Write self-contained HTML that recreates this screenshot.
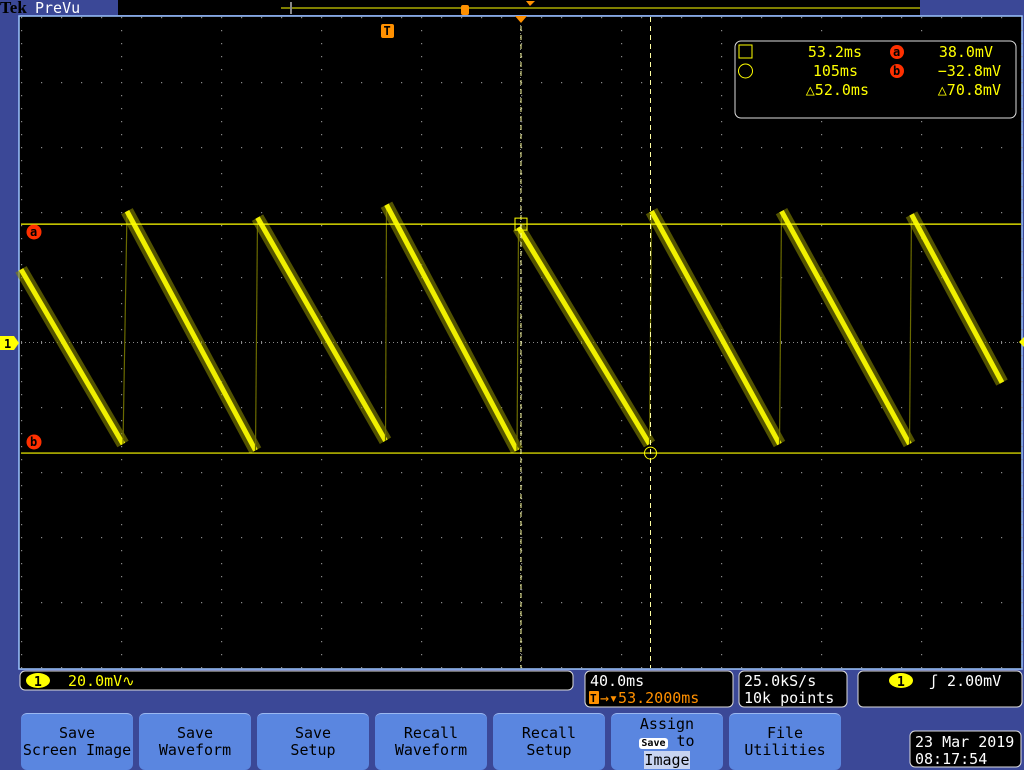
<!DOCTYPE html>
<html><head><meta charset="utf-8">
<style>
body{margin:0;width:1024px;height:768px;overflow:hidden;background:#3b4897;font-family:"Liberation Mono","DejaVu Sans Mono",monospace;}
svg{position:absolute;left:0;top:0}
.t{font-family:"DejaVu Sans Mono","Liberation Mono",monospace;}
.btn{position:absolute;top:713px;width:112px;height:56px;background:#5a86e0;border-radius:6px;border-top:1px solid #9bb8f0;color:#000;font:15px "DejaVu Sans Mono",monospace;text-align:center;display:flex;align-items:center;justify-content:center;line-height:17px}
</style></head><body>
<svg width="1024" height="768" id="scope">
  <rect x="0" y="0" width="1024" height="768" fill="#3b4897"/>
  <text x="0" y="13" font-family="Liberation Serif,serif" font-size="17" font-weight="bold" fill="#000">Tek</text>
  <text x="35" y="13" class="t" font-size="15" fill="#fff">PreVu</text>
  <rect x="118" y="0" width="802" height="15" fill="#000"/>
  <line x1="281" y1="8" x2="920" y2="8" stroke="#ffff00" stroke-width="1"/>
  <rect x="290" y="2" width="2" height="12" fill="#888"/>
  <rect x="461" y="5" width="8" height="10" fill="#ff9000" rx="2"/>
  <polygon points="526,1 535,1 530,6" fill="#ff9000"/>
  <rect x="19" y="16" width="1003" height="653" fill="#000" stroke="#9cc4ff" stroke-width="1.5"/>
  <g id="grid"></g>
  <g id="wave"></g>
  <g id="cursors"></g>
  <rect x="381" y="24" width="13" height="14" rx="2" fill="#ff9000"/>
  <text x="383.5" y="35" font-size="12" font-weight="bold" fill="#000" class="t">T</text>
  <polygon points="515,16 527,16 521,23" fill="#ff9000"/>
  <polygon points="0,336 14,336 19,343 14,350 0,350" fill="#ffff00"/>
  <text x="4" y="348" font-size="12" font-weight="bold" fill="#000" class="t">1</text>
  <polygon points="1019,342 1024,337 1024,347" fill="#ffff00"/>
  <circle cx="34" cy="232" r="7.5" fill="#ff3000"/>
  <text x="30" y="236" font-size="12" font-weight="bold" fill="#000" class="t">a</text>
  <circle cx="34" cy="442" r="7.5" fill="#ff3000"/>
  <text x="30" y="446" font-size="12" font-weight="bold" fill="#000" class="t">b</text>
  <g>
    <rect x="735" y="41" width="281" height="77" rx="6" fill="#000" stroke="#ddd" stroke-width="1"/>
    <rect x="739" y="45" width="13" height="13" fill="none" stroke="#ffff00"/>
    <circle cx="745.5" cy="71" r="7" fill="none" stroke="#ffff00"/>
    <g class="t" font-size="15" fill="#ffff00" text-anchor="end">
      <text x="862" y="57">53.2ms</text>
      <text x="858" y="76">105ms</text>
      <text x="869" y="95">△52.0ms</text>
      <text x="993" y="57">38.0mV</text>
      <text x="1001" y="76">−32.8mV</text>
      <text x="1001" y="95">△70.8mV</text>
    </g>
    <circle cx="897" cy="52" r="7" fill="#ff3000"/><text x="893" y="56" font-size="12" font-weight="bold" fill="#000" class="t">a</text>
    <circle cx="897" cy="71" r="7" fill="#ff3000"/><text x="893" y="75" font-size="12" font-weight="bold" fill="#000" class="t">b</text>
  </g>
  <rect x="20" y="671" width="553" height="19" rx="5" fill="#000" stroke="#ddd"/>
  <ellipse cx="38" cy="680.5" rx="12" ry="7.5" fill="#ffff00"/>
  <text x="34" y="686" font-size="13" font-weight="bold" fill="#000" class="t">1</text>
  <text x="68" y="686" class="t" font-size="15" fill="#ffff00">20.0mV∿</text>
  <rect x="585" y="671" width="148" height="36" rx="5" fill="#000" stroke="#ddd"/>
  <text x="590" y="686" class="t" font-size="15" fill="#fff">40.0ms</text>
  <rect x="589" y="691" width="10" height="13" rx="1" fill="#ff9000"/>
  <text x="590" y="702" font-size="11" font-weight="bold" fill="#000" class="t">T</text>
  <text x="600" y="703" class="t" font-size="15" fill="#ff9000">→▾53.2000ms</text>
  <rect x="739" y="671" width="108" height="36" rx="5" fill="#000" stroke="#ddd"/>
  <text x="744" y="686" class="t" font-size="15" fill="#fff">25.0kS/s</text>
  <text x="744" y="703" class="t" font-size="15" fill="#fff">10k points</text>
  <rect x="858" y="671" width="164" height="36" rx="5" fill="#000" stroke="#ddd"/>
  <ellipse cx="901" cy="680.5" rx="12" ry="7.5" fill="#ffff00"/>
  <text x="897" y="686" font-size="13" font-weight="bold" fill="#000" class="t">1</text>
  <text x="929" y="686" class="t" font-size="15" fill="#fff">ʃ 2.00mV</text>
  <rect x="910" y="731" width="111" height="36" rx="5" fill="#000" stroke="#ddd"/>
  <text x="915" y="747" class="t" font-size="15" fill="#fff">23 Mar 2019</text>
  <text x="915" y="764" class="t" font-size="15" fill="#fff">08:17:54</text>
</svg>
<div class="btn" style="left:21px">Save<br>Screen Image</div>
<div class="btn" style="left:139px">Save<br>Waveform</div>
<div class="btn" style="left:257px">Save<br>Setup</div>
<div class="btn" style="left:375px">Recall<br>Waveform</div>
<div class="btn" style="left:493px">Recall<br>Setup</div>
<div class="btn" style="left:611px"><span>Assign<br><span style="background:#fff;border-radius:3px;font-size:10px;padding:0 2px;font-weight:bold">Save</span> to<br><span style="background:#c8d4f0">Image</span></span></div>
<div class="btn" style="left:729px">File<br>Utilities</div>
<script>
// time (ms) and voltage (mV) of waveform vertices
const waveTimes = [-146.8, -106, -104.4, -53, -52.2, -1, -0.6, 51.6, 52.2, 104.6, 105.4, 156.6, 157.4, 208.6, 209.4, 245.6];
const waveValues = [24, -30, 42, -32, 40, -29, 44, -32, 37, -30, 42, -30, 42, -30, 41, -11];
const cursorTimes = [53.2, 105];
const cursorValues = [38.0, -32.8];
const NS='http://www.w3.org/2000/svg';
function xOf(t){return 521+(t-53.2)*2.5;}
function yOf(v){return 347-v*3.234;}
function mk(tag,attrs,parent){const e=document.createElementNS(NS,tag);for(const k in attrs)e.setAttribute(k,attrs[k]);parent.appendChild(e);return e;}
const grid=document.getElementById('grid');
let d='';
for(let i=0;i<=10;i++){const x=21+i*100;for(let y=17;y<=668;y+=13)d+=`M${x} ${y}h1.2v1.2h-1.2z`;}
for(let j=0;j<=10;j++){const y=17+j*65;for(let x=21;x<=1021;x+=20)d+=`M${x} ${y}h1.2v1.2h-1.2z`;}
for(let x=21;x<=1021;x+=4)d+=`M${x} 342h1v1h-1z`;
for(let x=21;x<=1021;x+=20)d+=`M${x} 341h1v3h-1z`;
for(let y=17;y<=668;y+=4)d+=`M520 ${y}h1v1h-1z`;
const gp=mk('path',{d:d,fill:'#888'},grid);


const wave=document.getElementById('wave');
for(let i=0;i<waveTimes.length-1;i++){
  const x1=xOf(waveTimes[i]),y1=yOf(waveValues[i]),x2=xOf(waveTimes[i+1]),y2=yOf(waveValues[i+1]);
  if(waveValues[i+1]>waveValues[i]){
    const r=mk('line',{x1:x1,y1:y1,x2:x2,y2:y2,stroke:'#6a6a00','stroke-width':1.2},wave);
    
    
  } else {
    const g=mk('line',{x1:x1,y1:y1,x2:x2,y2:y2,stroke:'#8a8a00','stroke-width':13,opacity:0.6},wave);
    
    
    const l=mk('line',{x1:x1,y1:y1,x2:x2,y2:y2,stroke:'#f0f000','stroke-width':5},wave);
    
    
  }
}
const cur=document.getElementById('cursors');
cursorValues.forEach((v,i)=>{const l=mk('line',{x1:21,x2:1021,y1:yOf(v),y2:yOf(v),stroke:'#ffff00','stroke-width':1.2},cur);

});
cursorTimes.forEach((t,i)=>{const l=mk('line',{x1:xOf(t),x2:xOf(t),y1:17,y2:668,stroke:'#ffffa0','stroke-width':1,'stroke-dasharray':'5,4'},cur);

});
const sq=mk('rect',{x:xOf(cursorTimes[0])-6,y:yOf(cursorValues[0])-6,width:12,height:12,fill:'none',stroke:'#ffff00'},cur);


const ci=mk('circle',{cx:xOf(cursorTimes[1]),cy:yOf(cursorValues[1]),r:6,fill:'none',stroke:'#ffff00'},cur);


</script>
</body></html>
